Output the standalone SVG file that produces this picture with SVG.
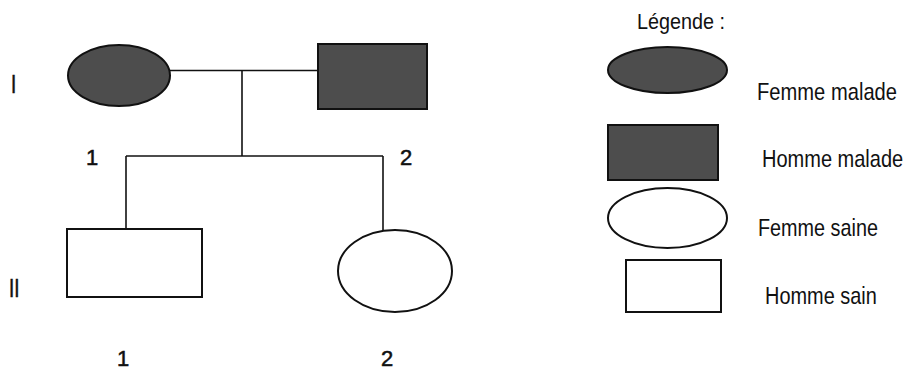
<svg xmlns="http://www.w3.org/2000/svg" width="913" height="389" viewBox="0 0 913 389">
<style>
.sick{fill:#4d4d4d;stroke:#111;stroke-width:2}
.healthy{fill:#fff;stroke:#111;stroke-width:2}
.line{fill:none;stroke:#111;stroke-width:1.6}
.t{font-family:"Liberation Sans",Arial,sans-serif;fill:#111}
.lab{font-size:24px}
.num{font-size:22px;stroke:#111;stroke-width:0.5}
.rom{font-size:25px;stroke:#111;stroke-width:0.6}
</style>
<rect x="0" y="0" width="913" height="389" fill="#fff"/>
<g id="connectors">
<path class="line" d="M170 70.5 H318"/>
<path class="line" d="M242 70.5 V156"/>
<path class="line" d="M126 156 H383"/>
<path class="line" d="M126 156 V229"/>
<path class="line" d="M383 156 V231"/>
</g>
<g id="I-1"><ellipse class="sick" cx="119" cy="75.5" rx="51" ry="30.5"/></g>
<g id="I-2"><rect class="sick" x="318" y="44" width="109" height="65"/></g>
<g id="II-1"><rect class="healthy" x="67" y="229" width="135" height="68"/></g>
<g id="II-2"><ellipse class="healthy" cx="395" cy="271" rx="57" ry="41"/></g>
<g id="labels">
<text class="t rom" transform="translate(11,93) scale(0.75,1)">I</text>
<text class="t rom" transform="translate(9,297) scale(0.75,1)">II</text>
<text class="t num" x="92" y="165" text-anchor="middle">1</text>
<text class="t num" x="406" y="165" text-anchor="middle">2</text>
<text class="t num" x="123" y="366" text-anchor="middle">1</text>
<text class="t num" x="387" y="366" text-anchor="middle">2</text>
</g>
<g id="legend">
<text class="t" font-size="22" transform="translate(637,29) scale(0.9,1)">Légende :</text>
<g id="leg-femme-malade">
<ellipse class="sick" cx="667.5" cy="70" rx="59.5" ry="23"/>
<text class="t lab" transform="translate(757,100) scale(0.84,1)">Femme malade</text>
</g>
<g id="leg-homme-malade">
<rect class="sick" x="608" y="125" width="110" height="55"/>
<text class="t lab" transform="translate(762,167) scale(0.834,1)">Homme malade</text>
</g>
<g id="leg-femme-saine">
<ellipse class="healthy" cx="667.5" cy="218" rx="59.5" ry="30"/>
<text class="t lab" transform="translate(758,236) scale(0.825,1)">Femme saine</text>
</g>
<g id="leg-homme-sain">
<rect class="healthy" x="626" y="260" width="95" height="52"/>
<text class="t lab" transform="translate(765,304) scale(0.83,1)">Homme sain</text>
</g>
</g>
</svg>
